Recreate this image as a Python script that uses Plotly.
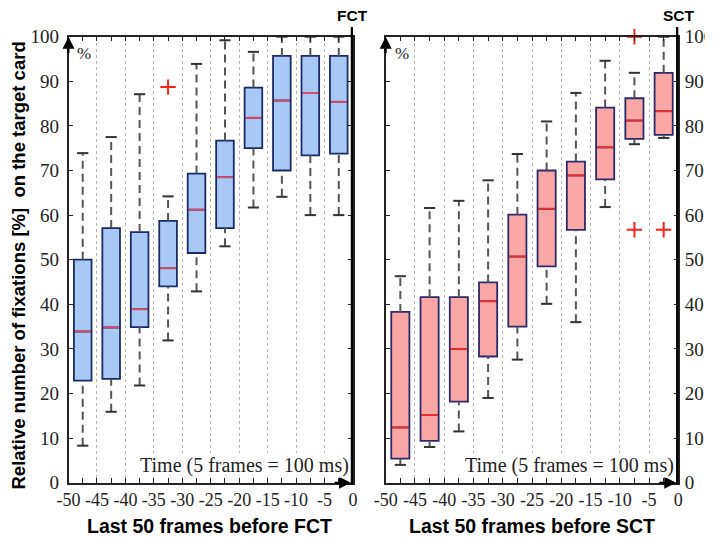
import plotly.graph_objects as go

# ---------------- data ----------------
positions = [-47.5, -42.5, -37.5, -32.5, -27.5, -22.5, -17.5, -12.5, -7.5, -2.5]
x_tick_vals = [-50, -45, -40, -35, -30, -25, -20, -15, -10, -5, 0]
x_tick_text = ["-50", "-45", "-40", "-35", "-30", "-25", "-20", "-15", "-10", "-5", "0"]
y_tick_vals = [0, 10, 20, 30, 40, 50, 60, 70, 80, 90, 100]

fct_q1 = [22.9, 23.3, 34.9, 44.0, 51.5, 57.1, 75.0, 70.0, 73.4, 73.8]
fct_med = [33.9, 34.8, 38.9, 48.1, 61.2, 68.5, 81.8, 85.7, 87.4, 85.4]
fct_q3 = [50.0, 57.1, 56.2, 58.7, 69.3, 76.7, 88.6, 95.7, 95.7, 95.7]
fct_lo = [8.3, 15.9, 21.8, 31.9, 42.9, 53.0, 61.7, 64.1, 60.0, 60.0]
fct_hi = [73.9, 77.5, 87.1, 64.2, 93.9, 99.2, 96.6, 100.0, 100.0, 100.0]
fct_out_x = [-32.5]
fct_out_y = [88.7]

sct_q1 = [5.4, 9.4, 18.2, 28.3, 35.0, 48.5, 56.7, 68.0, 77.1, 78.0]
sct_med = [12.4, 15.2, 30.0, 40.7, 50.7, 61.4, 68.9, 75.2, 81.2, 83.3]
sct_q3 = [38.3, 41.6, 41.6, 44.9, 60.1, 70.0, 72.0, 84.1, 86.2, 91.9]
sct_lo = [4.0, 8.0, 11.5, 19.0, 27.6, 40.1, 36.0, 61.8, 75.9, 77.3]
sct_hi = [46.3, 61.6, 63.2, 67.8, 73.7, 81.0, 87.4, 94.6, 91.9, 100.0]
sct_out_x = [-7.5, -7.5, -2.5]
sct_out_y = [100.0, 56.7, 56.7]

BOX_W = 3.1
SERIF = "Liberation Serif, Times New Roman, serif"
SANS = "Liberation Sans, Arial, sans-serif"

# page body has an 8px margin: figure is placed at (8, 8) in the window
OFF = 8
W, H = 713 - OFF, 539 - OFF


def px(X):
    return (X - OFF) / W


def py(Y):
    return (H - (Y - OFF)) / H


fig = go.Figure()


def add_panel(xa, ya, q1, med, q3, lo, hi, ox, oy, fill, edge, medc):
    # dashed whiskers
    wx, wy = [], []
    for p, a, b, c, d in zip(positions, lo, q1, q3, hi):
        wx += [p, p, None, p, p, None]
        wy += [a, b, None, c, d, None]
    fig.add_trace(go.Scatter(x=wx, y=wy, mode="lines", xaxis=xa, yaxis=ya,
                             line=dict(color="#555555", width=2, dash="8px,5px"),
                             hoverinfo="skip", showlegend=False))
    # caps
    fig.add_trace(go.Scatter(x=positions + positions, y=lo + hi, mode="markers",
                             xaxis=xa, yaxis=ya, cliponaxis=False,
                             marker=dict(symbol="line-ew", size=8,
                                         line=dict(color="#333333", width=2)),
                             hoverinfo="skip", showlegend=False))
    # boxes
    fig.add_trace(go.Box(x=positions, q1=q1, median=med, q3=q3,
                         lowerfence=q1, upperfence=q3, width=BOX_W,
                         whiskerwidth=0, boxpoints=False,
                         fillcolor=fill, line=dict(color=edge, width=1.8),
                         xaxis=xa, yaxis=ya, showlegend=False))
    # medians
    mx, my = [], []
    for p, m in zip(positions, med):
        mx += [p - BOX_W / 2 + 0.15, p + BOX_W / 2 - 0.15, None]
        my += [m, m, None]
    fig.add_trace(go.Scatter(x=mx, y=my, mode="lines", xaxis=xa, yaxis=ya,
                             line=dict(color=medc, width=2),
                             hoverinfo="skip", showlegend=False))
    # outliers
    fig.add_trace(go.Scatter(x=ox, y=oy, mode="markers", xaxis=xa, yaxis=ya,
                             cliponaxis=False,
                             marker=dict(symbol="cross-thin", size=11,
                                         line=dict(color="#ff2020", width=2)),
                             hoverinfo="skip", showlegend=False))


add_panel("x", "y", fct_q1, fct_med, fct_q3, fct_lo, fct_hi, fct_out_x, fct_out_y,
          "#a8c8f5", "#1c2a66", "#d2506e")
add_panel("x2", "y2", sct_q1, sct_med, sct_q3, sct_lo, sct_hi, sct_out_x, sct_out_y,
          "#f9a6a6", "#2c2a66", "#e8302a")

xcommon = dict(range=[-50, 0], tickmode="array", tickvals=x_tick_vals, ticktext=x_tick_text,
               ticks="inside", ticklen=5, tickwidth=1.2, tickcolor="#222",
               showline=True, linecolor="#222", linewidth=1.5, mirror="allticks",
               showgrid=True, gridcolor="#b5b5b5", griddash="dot", gridwidth=1,
               zeroline=False, automargin=False,
               minor=dict(tickvals=positions, ticks="inside", ticklen=5, tickcolor="#222",
                          tickwidth=1.2, showgrid=False),
               tickfont=dict(family=SERIF, size=18, color="#222"))
ycommon = dict(range=[0, 100], tickmode="array", tickvals=y_tick_vals,
               ticks="inside", ticklen=5, tickwidth=1.2, tickcolor="#222",
               showline=True, linecolor="#222", linewidth=1.5, mirror="allticks",
               showgrid=False, zeroline=False, automargin=False,
               tickfont=dict(family=SERIF, size=19, color="#222"))

ydom = [py(482.7), py(36.7)]
fig.update_layout(
    width=W, height=H,
    margin=dict(l=0, r=0, t=0, b=0, pad=0, autoexpand=False),
    paper_bgcolor="white", plot_bgcolor="white",
    showlegend=False,
    xaxis=dict(domain=[px(68.5), px(353)], anchor="y", **xcommon),
    yaxis=dict(domain=ydom, anchor="x", side="left", ticklabelstandoff=4, **ycommon),
    xaxis2=dict(domain=[px(385.7), px(678.3)], anchor="y2", **xcommon),
    yaxis2=dict(domain=ydom, anchor="x2", side="right", ticklabelstandoff=1, **ycommon),
)

# thick right boundaries
for xr in ["x", "x2"]:
    fig.add_shape(type="line", xref=xr, yref="paper", x0=0, x1=0,
                  y0=py(484), y1=py(27),
                  line=dict(color="black", width=4.5))

annotations = []
for xr, yr, lab, lx in [("x", "y", "FCT", 352), ("x2", "y2", "SCT", 679)]:
    # axis arrows
    annotations.append(dict(x=-50, y=100, ax=-50, ay=96, xref=xr, yref=yr,
                            axref=xr, ayref=yr, showarrow=True, arrowhead=2,
                            arrowsize=1.2, arrowwidth=2, arrowcolor="black", text=""))
    annotations.append(dict(x=-0.35, y=0, ax=-3.5, ay=0, xref=xr, yref=yr,
                            axref=xr, ayref=yr, showarrow=True, arrowhead=2,
                            arrowsize=1.2, arrowwidth=2, arrowcolor="black", text=""))
    annotations.append(dict(x=-47.2, y=96.3, xref=xr, yref=yr, text="%", showarrow=False,
                            xanchor="center", yanchor="middle",
                            font=dict(family=SERIF, size=17, color="#222")))
    annotations.append(dict(x=-0.6, y=3.9, xref=xr, yref=yr, xanchor="right",
                            yanchor="middle",
                            text="Time (5 frames = 100 ms)", showarrow=False,
                            bgcolor="white", borderpad=0,
                            font=dict(family=SERIF, size=20, color="#222")))
    annotations.append(dict(x=px(lx), y=py(15), xref="paper", yref="paper",
                            xanchor="center", yanchor="middle",
                            text="<b>%s</b>" % lab, showarrow=False,
                            font=dict(family=SANS, size=15.5, color="black")))

annotations.append(dict(x=px(209), y=py(526), xref="paper", yref="paper",
                        xanchor="center", yanchor="middle",
                        text="<b>Last 50 frames before FCT</b>", showarrow=False,
                        font=dict(family=SANS, size=19.5, color="black")))
annotations.append(dict(x=px(532), y=py(526), xref="paper", yref="paper",
                        xanchor="center", yanchor="middle",
                        text="<b>Last 50 frames before SCT</b>", showarrow=False,
                        font=dict(family=SANS, size=19.5, color="black")))
annotations.append(dict(x=px(17.5), y=py(266), xref="paper", yref="paper",
                        xanchor="center", yanchor="middle",
                        text="<b>Relative number of fixations [%]\u00a0 on the target card</b>",
                        textangle=-90, showarrow=False,
                        font=dict(family=SANS, size=18.5, color="black")))
fig.update_layout(annotations=annotations)

fig.write_html("out.html")
